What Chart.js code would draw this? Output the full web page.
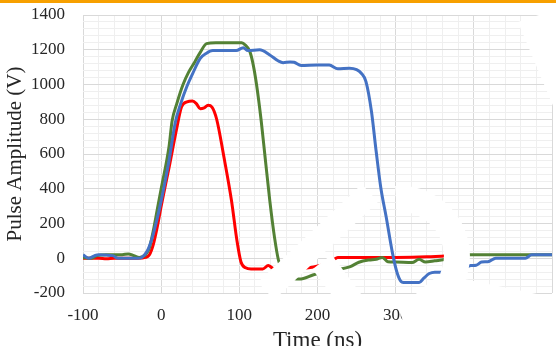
<!DOCTYPE html>
<html>
<head>
<meta charset="utf-8">
<script src="https://cdn.jsdelivr.net/npm/chart.js@4.4.1/dist/chart.umd.min.js"></script>
<style>
  html, body { margin: 0; padding: 0; background: #fff; overflow: hidden; }
  #wrap { position: relative; width: 556px; height: 346px; overflow: hidden; }
  #box { position: absolute; left: 0; top: 0; width: 556px; height: 360px; }
  #topline { position: absolute; left: 0; top: 0; width: 556px; height: 3px; background: #f7a000; z-index: 3; }
  #mark { position: absolute; left: 0; top: 0; z-index: 2; pointer-events: none; }
</style>
</head>
<body>
<div id="wrap">
  <div id="box"><canvas id="chart"></canvas></div>
  <svg id="mark" width="556" height="346">
    <g fill="none" stroke="#fff" stroke-linecap="butt">
      <line x1="266" y1="291" x2="370" y2="193" stroke-width="24"/>
      <path d="M396 199 A57 57 0 0 1 452 279" stroke-width="26"/>
      <line x1="322" y1="262" x2="388" y2="350" stroke-width="24"/>
    </g>
    <g fill="#fff">
      <polygon points="518,22 545,13 556,13 556,113"/>
      <polygon points="440,274 556,298 556,346 412,346 399,310 420,290"/>
    </g>
  </svg>
  <div id="topline"></div>
</div>
<script>
// ── Pulse waveforms (time in ns, amplitude in V) ──

const redTime = [-100, -90, -80, -70, -60, -50, -40, -30, -20, -15, -10, -5, 0, 10, 20, 26, 33, 40, 45, 50, 55, 60, 65, 71, 80, 90, 97, 102, 108, 115, 130, 137, 143, 150, 170, 195, 212, 220, 226, 260, 300, 340, 380];
const redVolt = [0, 0, 0, -3, 0, 0, 0, 0, 5, 20, 80, 180, 300, 520, 750, 870, 900, 905, 890, 860, 865, 880, 870, 800, 590, 331, 100, -20, -55, -62, -62, -42, -58, -62, -60, -50, -30, -11, 5, 5, 5, 8, 18];

const greenTime = [-100, -90, -82, -70, -60, -50, -42, -35, -28, -20, -15, -10, -5, 0, 10, 14, 20, 28, 35, 43, 50, 58, 70, 90, 103, 108, 113, 117, 122, 128, 133, 139, 145, 150, 155, 164, 177, 195, 215, 228, 241, 253, 266, 275, 283, 290, 300, 321, 330, 338, 350, 365, 377, 385, 420, 500];
const greenVolt = [5, 0, 15, 20, 20, 20, 25, 15, 5, 20, 60, 160, 280, 400, 640, 790, 890, 1000, 1070, 1130, 1185, 1235, 1240, 1240, 1240, 1225, 1195, 1130, 1000, 790, 580, 330, 120, -10, -70, -108, -120, -95, -70, -63, -50, -23, -10, -6, 5, -20, -22, -25, -6, -22, -15, -5, 11, 20, 20, 20];

const blueTime = [-100, -93, -85, -80, -70, -62, -55, -40, -30, -25, -18, -12, -5, 0, 10, 18, 25, 33, 40, 50, 58, 66, 80, 96, 105, 111, 126, 139, 150, 156, 165, 170, 179, 200, 215, 226, 241, 250, 256, 262, 269, 275, 281, 288, 296, 302, 308, 313, 330, 336, 343, 350, 377, 385, 396, 403, 410, 418, 428, 466, 474, 500];
const blueVolt = [20, 0, 15, 20, 18, 15, 0, 0, 0, 5, 40, 110, 230, 330, 560, 780, 890, 990, 1060, 1150, 1180, 1195, 1195, 1195, 1212, 1195, 1200, 1170, 1135, 1125, 1130, 1128, 1110, 1112, 1112, 1090, 1093, 1085, 1065, 1017, 846, 617, 406, 234, 28, -86, -137, -140, -140, -115, -88, -80, -80, -63, -42, -40, -22, -20, 0, 0, 20, 20];

const xTicks = { min: -100, max: 500, major: 100, minor: 20 };
const yTicks = { min: -200, max: 1400, major: 200, minor: 40 };

const toPoints = (xs, ys) => xs.map((x, i) => ({ x, y: ys[i] }));

const serif = '"Liberation Serif", "Times New Roman", serif';
const majorGrid = '#d9d9d9';
const minorGrid = '#efefef';

const lineStyle = (color, order) => ({
  borderColor: color,
  backgroundColor: color,
  borderWidth: 3,
  pointRadius: 0,
  cubicInterpolationMode: 'monotone',
  fill: false,
  order
});

new Chart(document.getElementById('chart'), {
  type: 'line',
  data: {
    datasets: [
      { label: 'Blue', data: toPoints(blueTime, blueVolt), ...lineStyle('#4472c4', 0) },
      { label: 'Green', data: toPoints(greenTime, greenVolt), ...lineStyle('#538135', 1) },
      { label: 'Red', data: toPoints(redTime, redVolt), ...lineStyle('#ff0000', 2) }
    ]
  },
  options: {
    responsive: true,
    maintainAspectRatio: false,
    animation: false,
    devicePixelRatio: 1,
    layout: { padding: { top: 15, right: 4, left: 0, bottom: 0 } },
    plugins: {
      legend: { display: false },
      tooltip: { enabled: false }
    },
    scales: {
      x: {
        type: 'linear',
        min: xTicks.min,
        max: xTicks.max,
        // keep the plot box where the picture has it
        afterFit: s => {
          s.height = 67;
          s.paddingLeft = 0;
          s.paddingRight = 0;
        },
        ticks: {
          stepSize: xTicks.minor,
          autoSkip: false,
          maxRotation: 0,
          padding: 12,
          color: '#262626',
          font: { family: serif, size: 17 },
          callback: v => (v % xTicks.major === 0 && v !== xTicks.max) ? String(v) : ''
        },
        grid: {
          drawTicks: false,
          color: c => (c.tick && c.tick.value % xTicks.major === 0) ? majorGrid : minorGrid
        },
        border: { display: false },
        title: {
          display: true,
          text: 'Time (ns)',
          color: '#262626',
          font: { family: serif, size: 23 },
          padding: { top: 0, bottom: 5 }
        }
      },
      y: {
        min: yTicks.min,
        max: yTicks.max,
        afterFit: s => {
          s.width = 83;
          s.paddingTop = 0;
          s.paddingBottom = 0;
        },
        ticks: {
          stepSize: yTicks.minor,
          autoSkip: false,
          padding: 18,
          color: '#262626',
          font: { family: serif, size: 17 },
          callback: v => (v % yTicks.major === 0) ? String(v) : ''
        },
        grid: {
          drawTicks: false,
          color: c => (c.tick && c.tick.value % yTicks.major === 0) ? majorGrid : minorGrid
        },
        border: { display: false },
        title: {
          display: true,
          text: 'Pulse Amplitude (V)',
          color: '#262626',
          font: { family: serif, size: 21 },
          padding: { top: 3, bottom: 0 }
        }
      }
    }
  }
});
</script>
</body>
</html>
